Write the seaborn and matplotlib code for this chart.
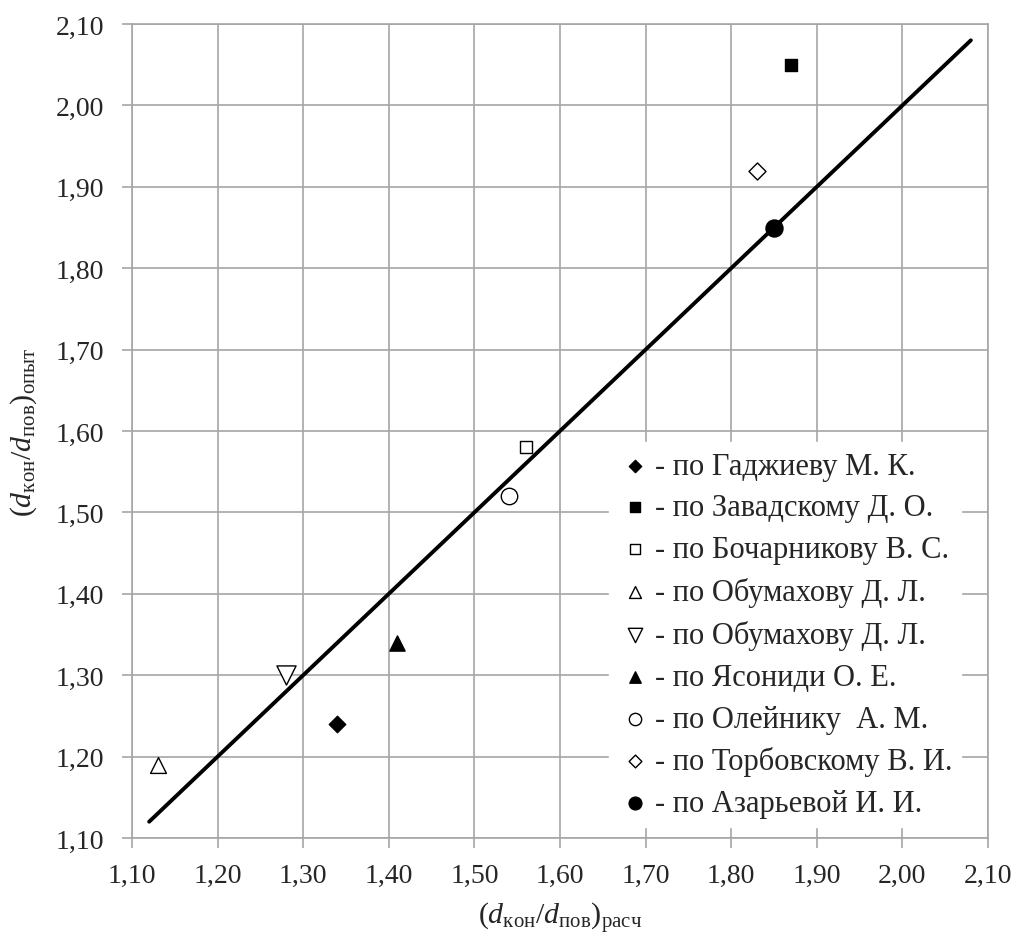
import matplotlib
matplotlib.use("Agg")
import matplotlib.pyplot as plt
import matplotlib.ticker as mticker
import numpy as np
import pandas as pd
import seaborn as sns

# data
authors = ["- по Гаджиеву М. К.", "- по Завадскому Д. О.", "- по Бочарникову В. С.",
           "- по Обумахову Д. Л.", "- по Обумахову Д. Л. ", "- по Ясониди О. Е.",
           "- по Олейнику  А. М.", "- по Торбовскому В. И.", "- по Азарьевой И. И."]
x_calc = [1.34, 1.87, 1.56, 1.13, 1.28, 1.41, 1.54, 1.83, 1.85]
y_exp = [1.24, 2.05, 1.58, 1.19, 1.30, 1.34, 1.52, 1.92, 1.85]
markers = ["D", "s", "s", "^", "v", "^", "o", "D", "o"]
filled = [True, True, False, False, False, True, False, False, True]
sizes = [70, 80, 85, 130, 190, 120, 140, 75, 150]
line_x = [1.12, 2.08]
line_y = [1.12, 2.08]

sns.set_style("white")
plt.rcParams["font.family"] = ["Liberation Serif", "DejaVu Serif"]
plt.rcParams["mathtext.fontset"] = "custom"
plt.rcParams["mathtext.rm"] = "Liberation Serif"
plt.rcParams["mathtext.it"] = "Liberation Serif:italic"

fig = plt.figure(figsize=(10.18, 9.37), dpi=100)
ax = fig.add_axes([0.1297, 0.1046, 0.8408, 0.8687])

grey = "#A6A6A6"

# regression line
sns.lineplot(x=line_x, y=line_y, ax=ax, color="black", linewidth=2.8, zorder=3)

for lab, xv, yv, m, f, s in zip(authors, x_calc, y_exp, markers, filled, sizes):
    df = pd.DataFrame({"x": [xv], "y": [yv]})
    sns.scatterplot(data=df, x="x", y="y", ax=ax, marker=m, s=s,
                    color="black" if f else "white", edgecolor="black",
                    linewidth=1.0, label=lab, zorder=4)

ax.set_xlim(1.10, 2.10)
ax.set_ylim(1.10, 2.10)
ticks = np.round(np.arange(1.10, 2.101, 0.10), 2)
ax.set_xticks(ticks)
ax.set_yticks(ticks)
fmt = mticker.FuncFormatter(lambda v, p: f"{v:.2f}".replace(".", ","))
ax.xaxis.set_major_formatter(fmt)
ax.yaxis.set_major_formatter(fmt)
ax.grid(True, color=grey, linewidth=1.2)
for sp in ax.spines.values():
    sp.set_color(grey)
    sp.set_linewidth(1.2)
ax.tick_params(axis="both", direction="out", length=7, width=1.2, color=grey,
               labelsize=20, left=True, bottom=True)
ax.tick_params(axis="x", pad=11)
ax.tick_params(axis="y", pad=13)

ax.set_xlabel(r"$(d_{\mathrm{кон}}/d_{\mathrm{пов}})_{\mathrm{расч}}$", fontsize=21.5, labelpad=9)
ax.set_ylabel(r"$(d_{\mathrm{кон}}/d_{\mathrm{пов}})_{\mathrm{опыт}}$", fontsize=21.5, labelpad=12)

leg = ax.legend(loc="upper left", bbox_to_anchor=(0.557, 0.486), frameon=True,
                fontsize=22, labelspacing=0.42, handletextpad=0.1, markerscale=0.75,
                borderaxespad=0, borderpad=0.3, handlelength=1.1)
leg.get_frame().set_facecolor("white")
leg.get_frame().set_edgecolor("white")
leg.get_frame().set_alpha(1)

fig.savefig("out.png", dpi=100)
